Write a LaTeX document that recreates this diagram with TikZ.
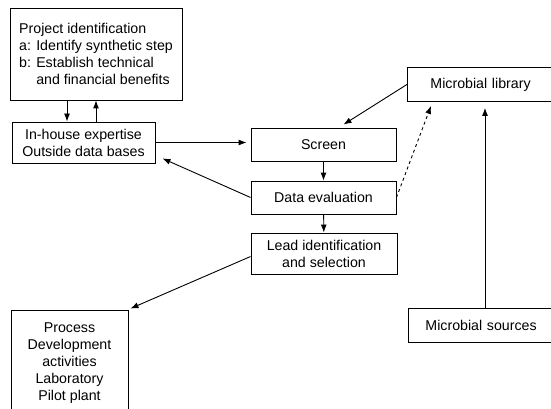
\documentclass[tikz,border=0pt]{standalone}
\usepackage{fontspec}
\setmainfont{Liberation Sans}
\usetikzlibrary{arrows.meta,positioning}

\begin{document}
\begin{tikzpicture}[x=1pt, y=-1pt, >={Latex[length=8pt,width=6pt]}, line width=0.9pt,
    box/.style={draw, inner sep=0pt, font=\fontsize{14.2}{17}\selectfont},
    lbox/.style={box, anchor=north west, align=left}]
        \useasboundingbox (0,0) rectangle (551,409);
        \clip (0,0) rectangle (551,409);
        % Boxes
        \node (proj) [box, minimum width=172, minimum height=92, align=left] at (96,54)
            {Project identification\\
             a: Identify synthetic step\\
             b: Establish technical\\
             \phantom{b: }and financial benefits};
        \node (house) [box, minimum width=143, minimum height=41, align=center] at (83.5,142.5)
            {In-house expertise\\Outside data bases};
        \node (screen) [box, minimum width=145, minimum height=33] at (323.5,144.5) {Screen};
        \node (evaluation) [box, minimum width=145, minimum height=33] at (323.5,197.5) {Data evaluation};
        \node (lead) [box, minimum width=146, minimum height=41, align=center] at (324,253.5)
            {Lead identification\\and selection};
        \node (process) [box, minimum width=117, minimum height=106, align=center] at (69.5,363)
            {Process\\Development\\activities\\Laboratory\\Pilot plant};
        \node (library) [lbox, minimum height=34, text width=125, inner xsep=23] at (407,67)
            {Microbial library};
        \node (sources) [lbox, minimum height=34, text width=130, inner xsep=17] at (408,308)
            {Microbial sources};
        % Arrows
        \draw [->] ([xshift=-29pt]proj.south) -- ([xshift=-29pt]proj.south |- house.north);
        \draw [->] (house.north -| proj.south) -- (proj.south);
        \draw [->] (house.east) -- ([xshift=-4pt]house.east -| screen.west);
        \draw [->] (screen) -- (evaluation);
        \draw [->] (evaluation) -- (lead);
        \draw [->] (evaluation.west) -- ([xshift=7pt, yshift=5pt]house.south east);
        \draw [->] (library.west) -- ([xshift=20pt, yshift=3pt]screen.north);
        \draw [->, dashed] (evaluation.east) -- ([xshift=24pt, yshift=-4pt]library.south west);
        \draw [->] ([xshift=77pt]sources.north west) -- ([xshift=78pt, yshift=-6pt]library.south west);
        \draw [->] ([yshift=-3pt]lead.west) -- ([xshift=2pt, yshift=1pt]process.north east);
\end{tikzpicture}
\end{document}
